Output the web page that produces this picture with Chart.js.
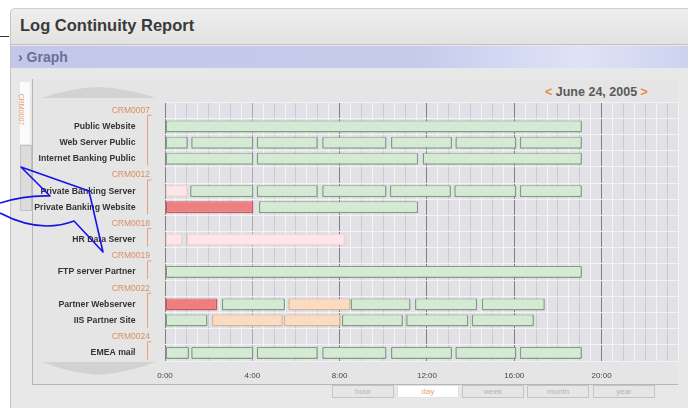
<!DOCTYPE html>
<html>
<head>
<meta charset="utf-8">
<title>Log Continuity Report</title>
<script src="https://cdn.jsdelivr.net/npm/chart.js@4.4.0/dist/chart.umd.min.js"></script>
<style>
  body { margin: 0; width: 688px; height: 408px; overflow: hidden; background: #fff; position: relative;
         font-family: "Liberation Sans", Arial, sans-serif; }
  .abs { position: absolute; }
  .frame { left: 10px; top: 8px; width: 678px; height: 400px; background: #e8e8e8;
           border-left: 1px solid #c4c4c4; border-top: 1px solid #cfcfcf; border-top-left-radius: 5px; }
  .head { left: 11px; top: 9px; width: 677px; height: 35px; background: linear-gradient(#eeeeee, #e2e2e2);
          border-bottom: 1px solid #c2c2c2; border-top-left-radius: 5px; }
  .title { left: 20px; top: 16px; font-size: 16.5px; font-weight: bold; color: #3a3a3a; }
  .graphbar { left: 11px; top: 46px; width: 677px; height: 22px;
              background: linear-gradient(to right, #c3c8ea 0%, #c6cbec 60%, #dfe3f7 84%, #cdd2ef 100%); }
  .graphbar span { position: absolute; left: 7px; top: 3px; font-size: 14px; font-weight: bold; color: #6b7096; }
  .panel { left: 32px; top: 79px; width: 645px; height: 305px; background: #e5e5e5;
           border-left: 1px solid #b6b6b6; border-bottom: 1px solid #b6b6b6; }
  .tab { left: 20px; top: 82px; width: 10px; height: 62px; background: #fbfbfb; }
  .tab span { position: absolute; left: -14px; top: 24px; transform: rotate(90deg); font-size: 7px; color: #e0a078; }
  .tabbox { left: 20px; top: 145px; width: 10px; height: 64px; background: #dcdcdc; border: 1px solid #c2c2c2; }
  .date { left: 545px; top: 85px; font-size: 12.5px; font-weight: bold; color: #5a5a5a; }
  .date b { color: #e8893c; }
  .btn { top: 385px; width: 60px; height: 11px; border: 1px solid #c4c4c4; background: #e6e6e6;
         font-size: 8px; color: #b5b5b5; text-align: center; line-height: 11px; }
  .btn.on { background: #fff; color: #f0a070; border-color: #e2e2e2; }
  #wrap { position: absolute; left: 30px; top: 82px; width: 658px; height: 303px; }
</style>
</head>
<body>
<div class="abs" style="left:0;top:36px;width:9px;height:1px;background:#333"></div>
<div class="abs frame"></div>
<div class="abs head"></div>
<div class="abs title">Log Continuity Report</div>
<div class="abs graphbar"><span>› Graph</span></div>
<div class="abs panel"></div>
<div class="abs tab"><span>CRM0007</span></div>
<div class="abs tabbox"></div>
<svg class="abs" style="left:0;top:0" width="688" height="408">
  <path d="M42,98 Q70,88 98,87 Q126,88 156,98 Z" fill="#d2d2d2"/>
  <path d="M42,362 Q70,373 98,375 Q126,373 156,362 Z" fill="#d2d2d2"/>
</svg>
<div class="abs date"><b>&lt;</b> June 24, 2005 <b>&gt;</b></div>
<div class="abs btn" style="left:332px">hour</div>
<div class="abs btn on" style="left:397px">day</div>
<div class="abs btn" style="left:462px">week</div>
<div class="abs btn" style="left:527px">month</div>
<div class="abs btn" style="left:593px">year</div>
<div id="wrap"><canvas id="gantt"></canvas></div>
<svg class="abs" style="left:0;top:0;pointer-events:none" width="688" height="408">
  <path d="M0,203 Q26,195 50,196 L21,167 L89,191 L103,252 L74,221 Q40,234 0,213"
        fill="none" stroke="#1414e6" stroke-width="1.6" stroke-linejoin="round"/>
</svg>
<script>
// rows of the gantt, group ids first then their servers
const rows = ['CRM0007', 'Public Website', 'Web Server Public', 'Internet Banking Public',
              'CRM0012', 'Private Banking Server', 'Private Banking Website',
              'CRM0018', 'HR Data Server',
              'CRM0019', 'FTP server Partner',
              'CRM0022', 'Partner Webserver', 'IIS Partner Site',
              'CRM0024', 'EMEA mail'];
const groups = ['CRM0007', 'CRM0012', 'CRM0018', 'CRM0019', 'CRM0022', 'CRM0024'];
const hourTicks = [0, 4, 8, 12, 16, 20];

// [row, start hour, end hour]
const okBars = [
    ['Public Website', 0, 19.1],
    ['Web Server Public', 0, 1.05], ['Web Server Public', 1.2, 4.05], ['Web Server Public', 4.2, 7.0],
    ['Web Server Public', 7.2, 10.15], ['Web Server Public', 10.35, 13.15], ['Web Server Public', 13.3, 16.1],
    ['Web Server Public', 16.25, 19.1],
    ['Internet Banking Public', 0, 4.05], ['Internet Banking Public', 4.2, 11.6], ['Internet Banking Public', 11.8, 19.1],
    ['Private Banking Server', 1.15, 4.05], ['Private Banking Server', 4.2, 7.0], ['Private Banking Server', 7.2, 10.15],
    ['Private Banking Server', 10.3, 13.1], ['Private Banking Server', 13.25, 16.1], ['Private Banking Server', 16.25, 19.1],
    ['Private Banking Website', 4.3, 11.6],
    ['FTP server Partner', 0, 19.1],
    ['Partner Webserver', 2.6, 5.5], ['Partner Webserver', 8.5, 11.25], ['Partner Webserver', 11.45, 14.3],
    ['Partner Webserver', 14.5, 17.4],
    ['IIS Partner Site', 0, 1.95], ['IIS Partner Site', 8.1, 10.9], ['IIS Partner Site', 11.05, 13.9],
    ['IIS Partner Site', 14.05, 16.9],
    ['EMEA mail', 0, 1.1], ['EMEA mail', 1.2, 4.05], ['EMEA mail', 4.2, 7.0], ['EMEA mail', 7.2, 10.15],
    ['EMEA mail', 10.35, 13.15], ['EMEA mail', 13.3, 16.1], ['EMEA mail', 16.25, 19.1]
];
const failBars = [
    ['Private Banking Website', 0, 4.05],
    ['Partner Webserver', 0, 2.4]
];
const partialBars = [
    ['Partner Webserver', 5.65, 8.5],
    ['IIS Partner Site', 2.15, 5.4], ['IIS Partner Site', 5.45, 8.05]
];
const pendingBars = [
    ['Private Banking Server', 0, 1.05],
    ['HR Data Server', 0, 0.8], ['HR Data Server', 1.0, 8.25]
];

const toPoints = list => list.map(b => ({ x: [b[1], b[2]], y: b[0] }));
const barStyle = (fill, edge) => ({
    backgroundColor: fill,
    borderColor: edge,
    borderWidth: { top: 1, left: 1.5, right: 1.5, bottom: 1.5 },
    borderSkipped: false,
    borderRadius: 1,
    grouped: false,
    barPercentage: 0.74,
    categoryPercentage: 1
});

// plot area fill + the orange brackets that tie servers to their group id
const ganttDecor = {
    id: 'ganttDecor',
    beforeDraw(chart) {
        const a = chart.chartArea, ctx = chart.ctx;
        ctx.save();
        ctx.fillStyle = '#e1e1e6';
        ctx.fillRect(a.left, a.top, a.right - a.left, a.bottom - a.top);
        ctx.restore();
    },
    afterDraw(chart) {
        const y = chart.scales.y, ctx = chart.ctx;
        ctx.save();
        ctx.strokeStyle = '#e3a27c';
        ctx.lineWidth = 1;
        groups.forEach(g => {
            const start = rows.indexOf(g);
            let end = start + 1;
            while (end + 1 < rows.length && !groups.includes(rows[end + 1])) end++;
            const top = y.getPixelForValue(start) + 5;
            const bottom = y.getPixelForValue(end) + 7;
            const bx = 147.5 - 30;
            ctx.beginPath();
            ctx.moveTo(bx + 4, top);
            ctx.lineTo(bx, top);
            ctx.lineTo(bx, bottom);
            ctx.stroke();
        });
        ctx.restore();
    }
};

new Chart(document.getElementById('gantt'), {
    type: 'bar',
    data: {
        labels: rows,
        datasets: [
            Object.assign({ label: 'OK', data: toPoints(okBars) }, barStyle('#d4ead2', '#819e83')),
            Object.assign({ label: 'Failed', data: toPoints(failBars) }, barStyle('#ee7e80', '#c45a5c')),
            Object.assign({ label: 'Partial', data: toPoints(partialBars) }, barStyle('#fbdcc2', '#d6b596')),
            Object.assign({ label: 'Pending', data: toPoints(pendingBars) }, barStyle('#fde6e8', '#f1cdd1'))
        ]
    },
    options: {
        indexAxis: 'y',
        responsive: true,
        maintainAspectRatio: false,
        animation: false,
        layout: { padding: { top: 5, right: 3, left: 0, bottom: 0 } },
        plugins: {
            legend: { display: false },
            tooltip: { enabled: false }
        },
        scales: {
            x: {
                type: 'linear',
                min: 0,
                max: 23.5,
                afterFit: s => { s.height = 24; },
                border: { display: false },
                grid: {
                    drawTicks: false,
                    lineWidth: 1,
                    color: c => {
                        const v = c.tick.value;
                        if (v === 4) return '#a9a9ad';
                        if (v % 4 === 0) return '#7f7f84';
                        return Number.isInteger(v) ? '#c9c9cf' : '#f4f4f7';
                    }
                },
                ticks: {
                    stepSize: 0.5,
                    autoSkip: false,
                    maxRotation: 0,
                    padding: 10,
                    color: '#454545',
                    font: { family: 'Liberation Sans', size: 8 },
                    callback: v => hourTicks.includes(v) ? v + ':00' : ''
                }
            },
            y: {
                afterFit: s => { s.width = 135; },
                border: { display: false },
                grid: { drawTicks: false, color: '#f3f3f6' },
                ticks: {
                    padding: 15,
                    autoSkip: false,
                    color: c => groups.includes(rows[c.index]) ? '#dc8d60' : '#333333',
                    font: c => groups.includes(rows[c.index])
                        ? { family: 'Liberation Sans', size: 8.5 }
                        : { family: 'Liberation Sans', size: 8.7, weight: 'bold' },
                    callback: (v, i) => groups.includes(rows[i]) ? rows[i] : rows[i] + '      '
                }
            }
        }
    },
    plugins: [ganttDecor]
});
</script>
</body>
</html>
